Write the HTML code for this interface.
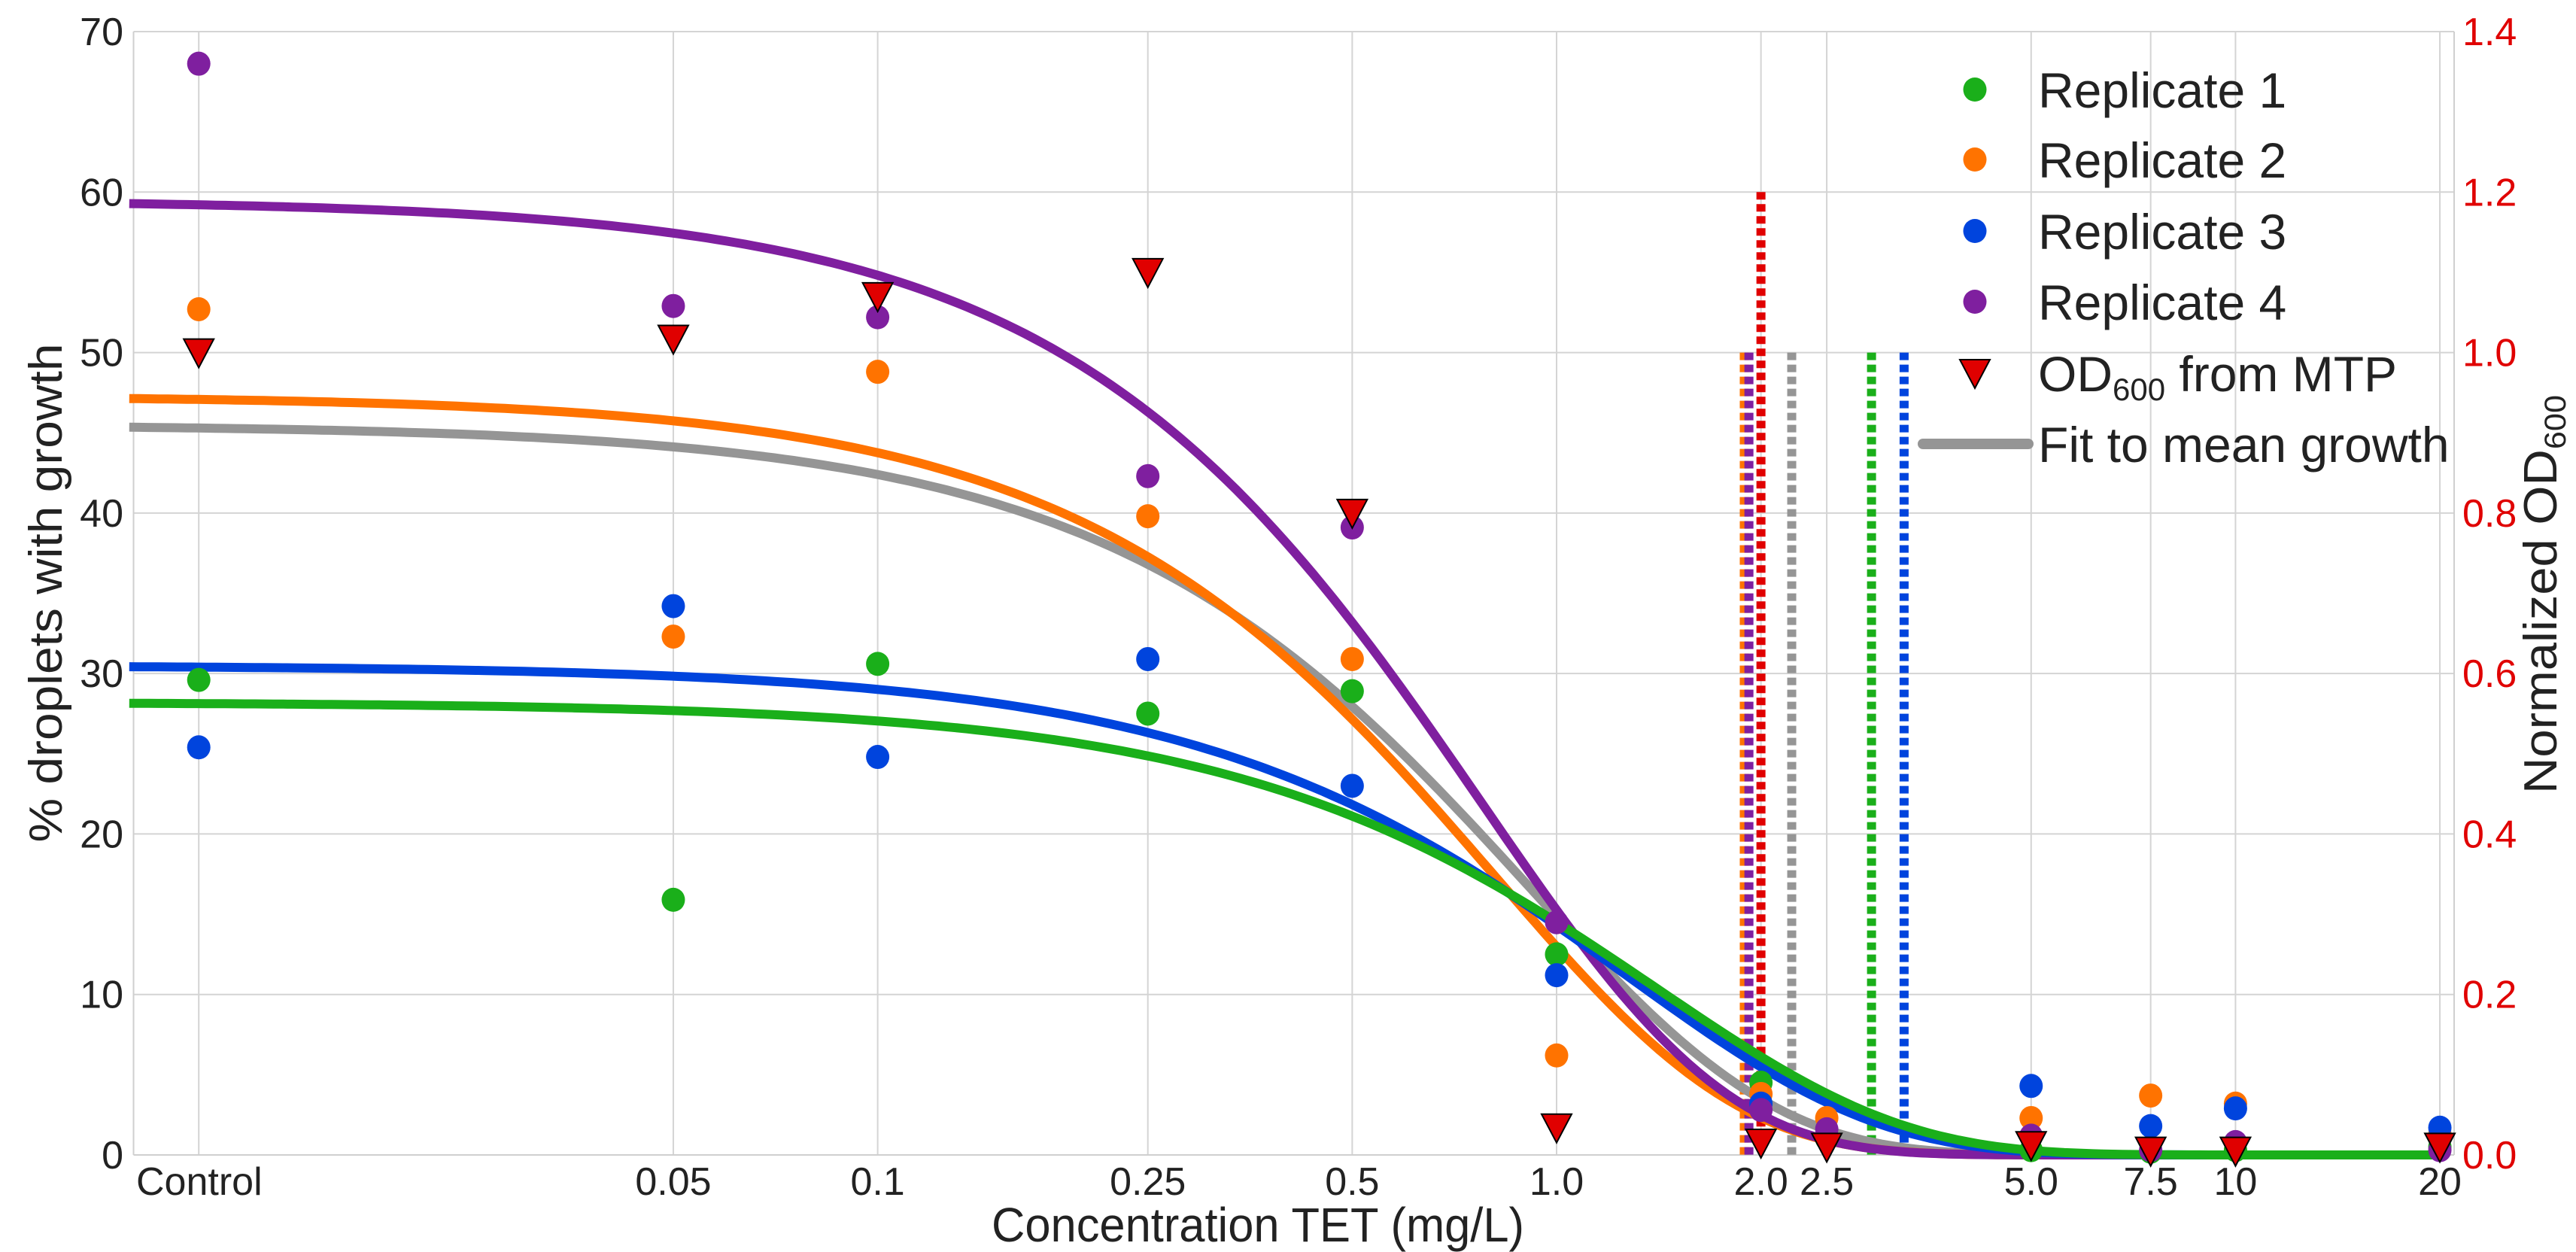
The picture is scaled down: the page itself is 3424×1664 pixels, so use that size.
<!DOCTYPE html>
<html><head><meta charset="utf-8">
<style>
html,body{margin:0;padding:0;background:#fff;}
svg{display:block;font-family:"Liberation Sans",Arial,sans-serif;}
</style></head>
<body>
<svg id="chart" width="3424" height="1664" viewBox="0 0 3424 1664" xmlns="http://www.w3.org/2000/svg">
  <g id="grid"></g>
  <g id="axes"></g>
  <g id="mic-lines"></g>
  <g id="fits"></g>
  <g id="points"></g>
  <text transform="translate(82,788) rotate(-90)" text-anchor="middle" font-size="62" fill="#222" textLength="663" lengthAdjust="spacingAndGlyphs">% droplets with growth</text>
  <text transform="translate(3398,790) rotate(-90)" text-anchor="middle" font-size="62" fill="#222" textLength="530" lengthAdjust="spacingAndGlyphs">Normalized OD<tspan font-size="40" dy="12">600</tspan></text>
  <text x="1672" y="1650" text-anchor="middle" font-size="64" fill="#222" textLength="708" lengthAdjust="spacingAndGlyphs">Concentration TET (mg/L)</text>
  <g id="legend"></g>
</svg>
<script>
// ---- data ----
const tickConc = [0.01, 0.05, 0.1, 0.25, 0.5, 1.0, 2.0, 2.5, 5.0, 7.5, 10, 20];
const tickLabels = ["Control", "0.05", "0.1", "0.25", "0.5", "1.0", "2.0", "2.5", "5.0", "7.5", "10", "20"];
const yTicks = [0, 10, 20, 30, 40, 50, 60, 70];
const y2Ticks = ["0.0", "0.2", "0.4", "0.6", "0.8", "1.0", "1.2", "1.4"];
const seriesNames = ["Replicate 1", "Replicate 2", "Replicate 3", "Replicate 4"];
const rep1 = [29.6, 15.9, 30.6, 27.5, 28.9, 12.5, 4.5, 1.0, 0.3, 0.2, 0.3, 0.5];
const rep2 = [52.7, 32.3, 48.8, 39.8, 30.9, 6.2, 3.8, 2.3, 2.3, 3.7, 3.2, 1.3];
const rep3 = [25.4, 34.2, 24.8, 30.9, 23.0, 11.2, 3.2, 1.2, 4.3, 1.8, 2.9, 1.7];
const rep4 = [68.0, 52.9, 52.2, 42.3, 39.1, 14.5, 2.8, 1.6, 1.2, 0.3, 0.8, 0.3];
const odValues = [1.0, 1.017, 1.07, 1.10, 0.80, 0.034, 0.015, 0.01, 0.012, 0.005, 0.005, 0.01];
// Weibull-type fits: top, scale, shape (rep1..rep4, mean)
const fitTop = [28.2, 47.3, 30.5, 59.5, 45.5];
const fitScale = [1.405, 0.81, 1.265, 0.777, 0.91];
const fitShape = [1.2, 1.22, 1.18, 1.22, 1.2];
// MIC dashed lines: concentration and OD height
const micConc = [2.91, 1.89, 3.25, 1.92, 2.22, 2.0];
const micHeight = [1.0, 1.0, 1.0, 1.0, 1.0, 1.2];

const colors = ["#1aaf1a", "#ff7300", "#0044dd", "#7f1f9f", "#959595", "#e00000"];
const NS = "http://www.w3.org/2000/svg";
const L = 177.5, R = 3262, T = 42, B = 1535;
const x = c => 2069 + 902.4 * Math.log10(c);
const yL = v => B - v * (B - T) / 70;
const yR = v => B - v * (B - T) / 1.4;
function mk(tag, attrs, parent) {
  const e = document.createElementNS(NS, tag);
  for (const k in attrs) e.setAttribute(k, attrs[k]);
  parent.appendChild(e);
  return e;
}
const grid = document.getElementById('grid');
const axes = document.getElementById('axes');
yTicks.forEach((v, i) => {
  const ln = mk('line', {x1: L, x2: R, y1: yL(v), y2: yL(v), stroke: '#d4d4d4', 'stroke-width': 2}, grid);
  
  
  const t = mk('text', {x: 164, y: yL(v) + 18, 'text-anchor': 'end', 'font-size': 52, fill: '#222'}, axes);
  t.textContent = v;
  
  
  const t2 = mk('text', {x: 3273, y: yL(v) + 18, 'text-anchor': 'start', 'font-size': 52, fill: '#e00000'}, axes);
  t2.textContent = y2Ticks[i];
  
  
});
tickConc.forEach((c, i) => {
  const ln = mk('line', {x1: x(c), x2: x(c), y1: T, y2: B, stroke: '#d4d4d4', 'stroke-width': 2}, grid);
  
  
  const anchor = i === 0 ? 'start' : 'middle';
  const tx = i === 0 ? 181 : x(c);
  const t = mk('text', {x: tx, y: 1588, 'text-anchor': anchor, 'font-size': 52, fill: '#222'}, axes);
  t.textContent = tickLabels[i];
  
  
});
[L, R].forEach(xx => {
  const s = mk('line', {x1: xx, x2: xx, y1: T, y2: B, stroke: '#cfcfcf', 'stroke-width': 2}, axes);
  
  
});
const sb = mk('line', {x1: L, x2: R, y1: B, y2: B, stroke: '#cfcfcf', 'stroke-width': 2}, axes);



// MIC lines
const micColors = [colors[0], colors[1], colors[2], colors[3], colors[4], colors[5]];
const mic = document.getElementById('mic-lines');
micConc.forEach((c, i) => {
  const ln = mk('line', {x1: x(c), x2: x(c), y1: yR(micHeight[i]), y2: B, stroke: micColors[i], 'stroke-width': 12, 'stroke-dasharray': '10 6'}, mic);
  
  
});

// fits
const fits = document.getElementById('fits');
const fitColors = [colors[0], colors[1], colors[2], colors[3], colors[4]];
const fitOrder = [4, 1, 3, 2, 0];
fitOrder.forEach(k => {
  let d = '';
  const n = 240, lo = Math.log10(0.0079), hi = Math.log10(20);
  for (let j = 0; j <= n; j++) {
    const c = Math.pow(10, lo + (hi - lo) * j / n);
    const v = fitTop[k] * Math.exp(-Math.pow(c / fitScale[k], fitShape[k]));
    d += (j ? 'L' : 'M') + x(c).toFixed(1) + ',' + yL(v).toFixed(1);
  }
  const p = mk('path', {d: d, fill: 'none', stroke: fitColors[k], 'stroke-width': 12, 'stroke-linejoin': 'round'}, fits);
  
  
});

// points
const pts = document.getElementById('points');
[rep1, rep2, rep3, rep4].forEach((arr, k) => {
  arr.forEach((v, i) => {
    const c = mk('ellipse', {cx: x(tickConc[i]), cy: yL(v), rx: 15.5, ry: 16, fill: colors[k]}, pts);
    
    
  });
});
function tri(cx, cy, parent) {
  return mk('polygon', {points: `${cx-20},${cy-18} ${cx+20},${cy-18} ${cx},${cy+20}`, fill: '#e00000', stroke: '#000', 'stroke-width': 2}, parent);
}
odValues.forEach((v, i) => {
  const t = tri(x(tickConc[i]), yR(v), pts);
  
  
});

// legend
const lg = document.getElementById('legend');
const rowsY = [119, 212, 307, 401, 496, 590];
seriesNames.forEach((nm, k) => {
  const m = mk('ellipse', {cx: 2625, cy: rowsY[k], rx: 15.5, ry: 16, fill: colors[k]}, lg);
  
  
  const t = mk('text', {x: 2709, y: rowsY[k] + 24, 'font-size': 66, fill: '#222'}, lg);
  t.textContent = nm;
  
  
});
const lt = tri(2625, rowsY[4], lg);


const odt = mk('text', {x: 2709, y: rowsY[4] + 24, 'font-size': 66, fill: '#222'}, lg);
odt.innerHTML = 'OD<tspan font-size="42" dy="12">600</tspan><tspan dy="-12"> from MTP</tspan>';


const gl = mk('line', {x1: 2556, x2: 2696, y1: rowsY[5], y2: rowsY[5], stroke: colors[4], 'stroke-width': 14, 'stroke-linecap': 'round'}, lg);


const ft = mk('text', {x: 2709, y: rowsY[5] + 24, 'font-size': 66, fill: '#222'}, lg);
ft.textContent = 'Fit to mean growth';


</script>
</body></html>
